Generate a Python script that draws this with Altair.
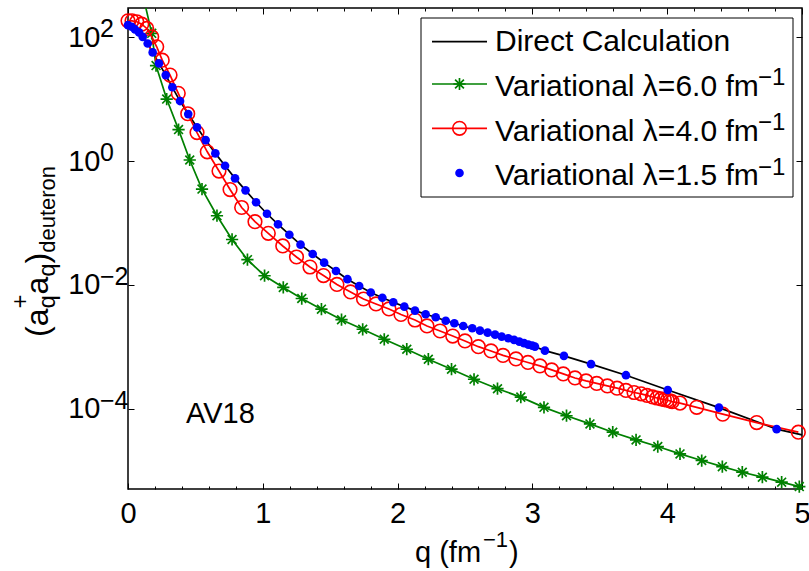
import altair as alt
import pandas as pd

FONT = "Liberation Sans"
GREEN = "#008000"

# ---------------- data ----------------
q_direct = [0.00, 0.027, 0.052, 0.082, 0.109, 0.146, 0.183, 0.230, 0.280, 0.329, 0.386, 0.447, 0.512, 0.576,
            0.648, 0.720, 0.794, 0.872, 0.950, 1.031, 1.113, 1.197, 1.280, 1.370, 1.455, 1.543, 1.628, 1.715,
            1.801, 1.887, 1.968, 2.050, 2.129, 2.208, 2.283, 2.357, 2.421, 2.487, 2.554, 2.611, 2.668, 2.723,
            2.772, 2.821, 2.864, 2.903, 2.938, 2.970, 2.999, 3.019, 3.093, 3.234, 3.435, 3.694, 4.004, 4.384,
            4.812, 5.000]
y_direct = [156, 147, 133, 119, 101, 79, 56.6, 37.7, 24.4, 15.5, 9.29, 5.73, 3.50, 2.18, 1.33, 0.839, 0.526,
            0.337, 0.216, 0.141, 0.0953, 0.0647, 0.0447, 0.0316, 0.0229, 0.0168, 0.0124, 0.00964, 0.00757,
            0.00623, 0.00526, 0.00447, 0.00385, 0.00337, 0.00301, 0.00265, 0.00241, 0.00218, 0.00200, 0.00183,
            0.00170, 0.00158, 0.00147, 0.00138, 0.00130, 0.00122, 0.00115, 0.00109, 0.00105, 0.00101, 0.000871,
            0.000716, 0.000528, 0.000350, 0.000202, 0.000105, 4.71e-5, 3.81e-5]

q_lam60 = [0.100, 0.176, 0.208, 0.287, 0.375, 0.458, 0.549, 0.660, 0.772, 0.886, 1.013, 1.152, 1.289, 1.435,
           1.584, 1.741, 1.901, 2.068, 2.228, 2.400, 2.567, 2.741, 2.914, 3.086, 3.253, 3.427, 3.596, 3.769,
           3.930, 4.095, 4.256, 4.409, 4.557, 4.706, 4.849, 4.980]
y_lam60 = [600, 115, 34.7, 10.0, 3.22, 1.04, 0.353, 0.131, 0.0542, 0.0256, 0.0141, 0.00912, 0.00605, 0.00407,
           0.00275, 0.00193, 0.00133, 0.000918, 0.000634, 0.000437, 0.000301, 0.000212, 0.000155, 0.000106,
           7.76e-5, 5.73e-5, 4.21e-5, 3.16e-5, 2.47e-5, 1.88e-5, 1.47e-5, 1.17e-5, 9.52e-6, 7.91e-6, 6.58e-6,
           5.58e-6]

q_lam40 = [0.000, 0.030, 0.065, 0.102, 0.139, 0.176, 0.213, 0.254, 0.312, 0.373, 0.443, 0.512, 0.588, 0.675,
           0.757, 0.843, 0.942, 1.041, 1.148, 1.250, 1.350, 1.450, 1.550, 1.651, 1.747, 1.840, 1.936, 2.025,
           2.129, 2.218, 2.315, 2.409, 2.500, 2.599, 2.693, 2.782, 2.878, 2.967, 3.056, 3.143, 3.229, 3.316,
           3.398, 3.477, 3.556, 3.628, 3.694, 3.754, 3.806, 3.850, 3.891, 3.924, 3.954, 3.979, 4.001, 4.021,
           4.036, 4.095, 4.219, 4.412, 4.664, 4.973]
y_lam40 = [183, 183, 177, 162, 138, 101, 69.8, 42.5, 24.4, 12.4, 5.80, 2.88, 1.41, 0.690, 0.347, 0.178, 0.105,
           0.0682, 0.0426, 0.0283, 0.0195, 0.0142, 0.0102, 0.00771, 0.00594, 0.00494, 0.00410, 0.00334,
           0.00272, 0.00218, 0.00181, 0.00150, 0.00125, 0.00101, 0.000861, 0.000730, 0.000640, 0.000562,
           0.000494, 0.000426, 0.000367, 0.000316, 0.000283, 0.000258, 0.000235, 0.000216, 0.000199, 0.000184,
           0.000175, 0.000165, 0.000156, 0.000150, 0.000145, 0.000141, 0.000138, 0.000135, 0.000131, 0.000124,
           0.000106, 8.22e-5, 6.01e-5, 4.21e-5]

q_lam15 = [0.00, 0.027, 0.052, 0.082, 0.109, 0.146, 0.183, 0.230, 0.280, 0.329, 0.386, 0.447, 0.512, 0.576,
           0.648, 0.720, 0.794, 0.872, 0.950, 1.031, 1.113, 1.197, 1.280, 1.370, 1.455, 1.543, 1.628, 1.715,
           1.801, 1.887, 1.968, 2.050, 2.129, 2.208, 2.283, 2.357, 2.421, 2.487, 2.554, 2.611, 2.668, 2.723,
           2.772, 2.821, 2.864, 2.903, 2.938, 2.970, 2.999, 3.019, 3.093, 3.234, 3.435, 3.694, 4.004, 4.384,
           4.812]
y_lam15 = [156, 147, 133, 119, 101, 79, 56.6, 37.7, 24.4, 15.5, 9.29, 5.73, 3.50, 2.18, 1.33, 0.839, 0.526,
           0.337, 0.216, 0.141, 0.0953, 0.0647, 0.0447, 0.0316, 0.0229, 0.0168, 0.0124, 0.00964, 0.00757,
           0.00623, 0.00526, 0.00447, 0.00385, 0.00337, 0.00301, 0.00265, 0.00241, 0.00218, 0.00200, 0.00183,
           0.00170, 0.00158, 0.00147, 0.00138, 0.00130, 0.00122, 0.00115, 0.00109, 0.00105, 0.00101, 0.000871,
           0.000716, 0.000528, 0.000350, 0.000202, 0.000105, 4.71e-5]

x_major = [0, 1, 2, 3, 4, 5]
x_minor = [0.2, 0.4, 0.6, 0.8, 1.2, 1.4, 1.6, 1.8, 2.2, 2.4, 2.6, 2.8, 3.2, 3.4, 3.6, 3.8, 4.2, 4.4, 4.6, 4.8]
y_major = [1e-4, 1e-2, 1, 1e2]
y_exponents = ["\u22124", "\u22122", "0", "2"]

legend_labels = ["Direct Calculation", "Variational \u03bb=6.0 fm", "Variational \u03bb=4.0 fm",
                 "Variational \u03bb=1.5 fm"]

X_DOMAIN = [0, 5]
Y_DOMAIN = [5.1e-6, 295]

# ---------------- frames ----------------
df_direct = pd.DataFrame({"q": q_direct, "y": y_direct})
df60 = pd.DataFrame({"q": q_lam60, "y": y_lam60})
df40 = pd.DataFrame({"q": q_lam40, "y": y_lam40})
df15 = pd.DataFrame({"q": q_lam15, "y": y_lam15})
df_exp = pd.DataFrame({"y": y_major, "t": y_exponents})
one = pd.DataFrame({"a": [0]})

xs = alt.Scale(domain=X_DOMAIN, nice=False, zero=False)
ys = alt.Scale(type="log", domain=Y_DOMAIN, nice=False)

MAJ, MIN = 6, 3
tick_common = dict(grid=False, domain=False, title=None, tickColor="black", tickWidth=1)

ax_bottom = alt.Axis(orient="bottom", values=x_major, format="d", offset=-MAJ, tickSize=MAJ,
                     labelFont=FONT, labelFontSize=29, labelColor="black", labelPadding=10,
                     labelOverlap=False, labelFlush=False, **tick_common)
ax_bottom_minor = alt.Axis(orient="bottom", values=x_minor, offset=-MIN, tickSize=MIN, labels=False,
                           **tick_common)
ax_top = alt.Axis(orient="top", values=x_major, offset=-MAJ, tickSize=MAJ, labels=False, **tick_common)
ax_top_minor = alt.Axis(orient="top", values=x_minor, offset=-MIN, tickSize=MIN, labels=False, **tick_common)
ax_left = alt.Axis(orient="left", values=y_major, labelExpr="'10'", offset=-MAJ, tickSize=MAJ,
                   labelFont=FONT, labelFontSize=29, labelColor="black", labelPadding=28,
                   labelOverlap=False, labelFlush=False, **tick_common)
ax_right = alt.Axis(orient="right", values=y_major, offset=-MAJ, tickSize=MAJ, labels=False, **tick_common)


def enc(xaxis=None, yaxis=None):
    return dict(x=alt.X("q:Q", scale=xs, axis=xaxis), y=alt.Y("y:Q", scale=ys, axis=yaxis))


STAR = "M0,-1L0,1M-1,0L1,0M-0.72,-0.72L0.72,0.72M-0.72,0.72L0.72,-0.72"

black_line = alt.Chart(df_direct).mark_line(color="black", strokeWidth=1.7).encode(
    **enc(ax_bottom, ax_left))
green_line = alt.Chart(df60).mark_line(color=GREEN, strokeWidth=1.7, clip=True).encode(
    **enc(ax_bottom_minor, ax_right))
green_pts = alt.Chart(df60).transform_filter(f"datum.y < {Y_DOMAIN[1]}").mark_point(
    shape=STAR, size=150, color=GREEN, strokeWidth=1.7, filled=False, opacity=1).encode(**enc())
red_line = alt.Chart(df40).mark_line(color="red", strokeWidth=1.7).encode(**enc(ax_top))
red_pts = alt.Chart(df40).mark_point(shape="circle", size=185, color="red", strokeWidth=1.6,
                                     filled=False, opacity=1).encode(**enc(ax_top_minor))
blue_pts = alt.Chart(df15).mark_point(shape="circle", size=75, color="blue", filled=True,
                                      opacity=1, strokeWidth=0).encode(**enc())

exp_text = alt.Chart(df_exp).mark_text(font=FONT, fontSize=25, align="left", baseline="middle",
                                       dy=-8, color="black").encode(
    x=alt.value(-28), y=alt.Y("y:Q", scale=ys, axis=None), text="t:N")

av18 = alt.Chart(pd.DataFrame({"q": [0.43], "y": [6.0e-5], "t": ["AV18"]})).mark_text(
    font=FONT, fontSize=29, align="left", baseline="alphabetic", color="black").encode(
    x=alt.X("q:Q", scale=xs, axis=None), y=alt.Y("y:Q", scale=ys, axis=None), text="t:N")


def txt(s, x, y, size=29, angle=0, align="left"):
    kw = dict(font=FONT, fontSize=size, align=align, baseline="alphabetic", color="black", text=s)
    if angle:
        kw["angle"] = angle
    return alt.Chart(one).mark_text(**kw).encode(x=alt.value(x), y=alt.value(y))


# x-axis title: q (fm^-1)
xt = [txt("q (fm", 287, 554), txt("\u22121", 355, 539, size=22), txt(")", 381, 554)]

# y-axis title: (a^+_q a_q)_deuteron, rotated
MB, SB, PB = -80, -73, -100
yt = [txt("(a", MB, 329, size=32, angle=270),
      txt("+", PB, 300.6, size=24, angle=270),
      txt("q", SB, 300.6, size=24, angle=270),
      txt("a", MB, 286.6, size=32, angle=270),
      txt("q", SB, 268.8, size=24, angle=270),
      txt(")", MB, 255.5, size=32, angle=270),
      txt("deuteron", SB, 244.8, size=22, angle=270)]

# legend (manual, MATLAB style)
LX0, LX1, LM, LT = 304, 359, 331.5, 367
sym_y = [33.7, 76, 120.3, 165]
base_y = [43, 87.5, 132.5, 177]
leg = [alt.Chart(one).mark_rect(fill="white", stroke="black", strokeWidth=1).encode(
    x=alt.value(293), x2=alt.value(665), y=alt.value(10), y2=alt.value(189))]
leg.append(alt.Chart(one).mark_rule(color="black", strokeWidth=1.7).encode(
    x=alt.value(LX0), x2=alt.value(LX1), y=alt.value(sym_y[0])))
leg.append(alt.Chart(one).mark_rule(color=GREEN, strokeWidth=1.7).encode(
    x=alt.value(LX0), x2=alt.value(LX1), y=alt.value(sym_y[1])))
leg.append(alt.Chart(one).mark_point(shape=STAR, size=150, color=GREEN, strokeWidth=1.7, filled=False,
                                     opacity=1).encode(x=alt.value(LM), y=alt.value(sym_y[1])))
leg.append(alt.Chart(one).mark_rule(color="red", strokeWidth=1.7).encode(
    x=alt.value(LX0), x2=alt.value(LX1), y=alt.value(sym_y[2])))
leg.append(alt.Chart(one).mark_point(shape="circle", size=185, color="red", strokeWidth=1.6, filled=False,
                                     opacity=1).encode(x=alt.value(LM), y=alt.value(sym_y[2])))
leg.append(alt.Chart(one).mark_point(shape="circle", size=75, color="blue", filled=True, opacity=1,
                                     strokeWidth=0).encode(x=alt.value(LM), y=alt.value(sym_y[3])))
for i, lab in enumerate(legend_labels):
    leg.append(txt(lab, LT, base_y[i], size=30))
    if i > 0:
        leg.append(txt("\u22121", 630, base_y[i] - 10.5, size=24))

chart = alt.layer(
    black_line, green_line, green_pts, red_line, red_pts, blue_pts, exp_text, av18, *xt, *yt, *leg
).resolve_axis(x="independent", y="independent").properties(
    width=674, height=481,
    autosize=alt.AutoSizeParams(type="none"),
    padding={"left": 128, "top": 8, "right": 7, "bottom": 82},
).configure_view(stroke="black", strokeWidth=1.5)

chart.save("out.html", embed_options={"renderer": "svg", "actions": False})
